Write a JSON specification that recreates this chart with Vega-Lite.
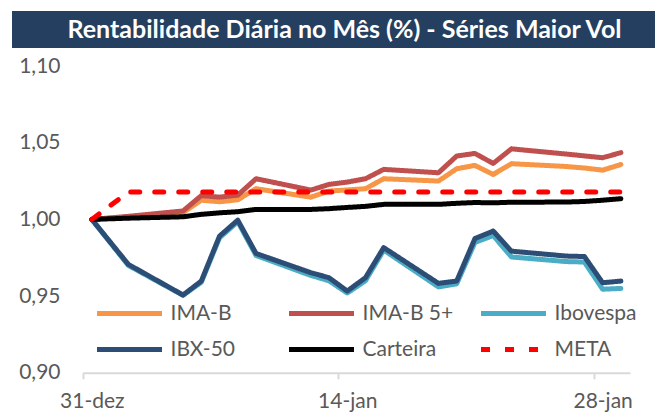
{
  "$schema": "https://vega.github.io/schema/vega-lite/v6.json",
  "padding": {"left": 12, "top": 11, "right": 5, "bottom": 0},
  "background": "white",
  "spacing": 7,
  "config": {"view": {"stroke": null}, "font": "Lato", "axis": {"grid": false}},
  "vconcat": [
    {
      "width": 643,
      "height": 37,
      "view": {"fill": "#243F60", "stroke": null},
      "data": {"values": [{"titulo": "Rentabilidade Diária no Mês (%) - Séries Maior Vol"}]},
      "mark": {"type": "text", "color": "white", "fontWeight": "bold", "fontSize": 25, "font": "Lato", "baseline": "middle", "align": "center", "dx": 11},
      "encoding": {"text": {"field": "titulo"}}
    },
    {
      "width": 643,
      "height": 306.8,
      "data": {"values": [
        {"d": "2014-12-31", "IMA-B": 1.0, "IMA-B 5+": 1.0, "Ibovespa": 1.0, "IBX-50": 1.0, "Carteira": 1.0, "META": 1.0},
        {"d": "2015-01-02", "IMA-B": 1.0015, "IMA-B 5+": 1.002, "Ibovespa": 0.970, "IBX-50": 0.9707, "Carteira": 1.0008, "META": 1.0178},
        {"d": "2015-01-05", "IMA-B": 1.0045, "IMA-B 5+": 1.0055, "Ibovespa": 0.9505, "IBX-50": 0.9507, "Carteira": 1.0017, "META": 1.0178},
        {"d": "2015-01-06", "IMA-B": 1.0125, "IMA-B 5+": 1.0155, "Ibovespa": 0.959, "IBX-50": 0.9598, "Carteira": 1.0033, "META": 1.0178},
        {"d": "2015-01-07", "IMA-B": 1.0115, "IMA-B 5+": 1.0145, "Ibovespa": 0.988, "IBX-50": 0.9891, "Carteira": 1.0043, "META": 1.0178},
        {"d": "2015-01-08", "IMA-B": 1.0128, "IMA-B 5+": 1.0158, "Ibovespa": 0.9985, "IBX-50": 0.9995, "Carteira": 1.005, "META": 1.0178},
        {"d": "2015-01-09", "IMA-B": 1.020, "IMA-B 5+": 1.0265, "Ibovespa": 0.9765, "IBX-50": 0.9778, "Carteira": 1.0065, "META": 1.0178},
        {"d": "2015-01-12", "IMA-B": 1.0145, "IMA-B 5+": 1.0191, "Ibovespa": 0.9635, "IBX-50": 0.9653, "Carteira": 1.0065, "META": 1.0178},
        {"d": "2015-01-13", "IMA-B": 1.0185, "IMA-B 5+": 1.0228, "Ibovespa": 0.960, "IBX-50": 0.962, "Carteira": 1.007, "META": 1.0178},
        {"d": "2015-01-14", "IMA-B": 1.0192, "IMA-B 5+": 1.0243, "Ibovespa": 0.952, "IBX-50": 0.9533, "Carteira": 1.0078, "META": 1.0178},
        {"d": "2015-01-15", "IMA-B": 1.020, "IMA-B 5+": 1.0265, "Ibovespa": 0.960, "IBX-50": 0.962, "Carteira": 1.0085, "META": 1.0178},
        {"d": "2015-01-16", "IMA-B": 1.0265, "IMA-B 5+": 1.0326, "Ibovespa": 0.980, "IBX-50": 0.9816, "Carteira": 1.0098, "META": 1.0178},
        {"d": "2015-01-19", "IMA-B": 1.025, "IMA-B 5+": 1.0304, "Ibovespa": 0.956, "IBX-50": 0.9583, "Carteira": 1.0098, "META": 1.0178},
        {"d": "2015-01-20", "IMA-B": 1.033, "IMA-B 5+": 1.0413, "Ibovespa": 0.958, "IBX-50": 0.9598, "Carteira": 1.0105, "META": 1.0178},
        {"d": "2015-01-21", "IMA-B": 1.0352, "IMA-B 5+": 1.043, "Ibovespa": 0.985, "IBX-50": 0.9875, "Carteira": 1.011, "META": 1.0178},
        {"d": "2015-01-22", "IMA-B": 1.0293, "IMA-B 5+": 1.0365, "Ibovespa": 0.9895, "IBX-50": 0.9924, "Carteira": 1.0108, "META": 1.0178},
        {"d": "2015-01-23", "IMA-B": 1.0363, "IMA-B 5+": 1.046, "Ibovespa": 0.9755, "IBX-50": 0.9793, "Carteira": 1.0112, "META": 1.0178},
        {"d": "2015-01-26", "IMA-B": 1.0345, "IMA-B 5+": 1.0426, "Ibovespa": 0.9725, "IBX-50": 0.9761, "Carteira": 1.0113, "META": 1.0178},
        {"d": "2015-01-27", "IMA-B": 1.0335, "IMA-B 5+": 1.0414, "Ibovespa": 0.9722, "IBX-50": 0.9758, "Carteira": 1.0117, "META": 1.0178},
        {"d": "2015-01-28", "IMA-B": 1.0321, "IMA-B 5+": 1.0402, "Ibovespa": 0.9545, "IBX-50": 0.9587, "Carteira": 1.0125, "META": 1.0178},
        {"d": "2015-01-29", "IMA-B": 1.0358, "IMA-B 5+": 1.0435, "Ibovespa": 0.955, "IBX-50": 0.9598, "Carteira": 1.0135, "META": 1.0178}
      ]},
      "transform": [
        {"fold": ["IMA-B", "IMA-B 5+", "Ibovespa", "IBX-50", "Carteira", "META"], "as": ["serie", "valor"]}
      ],
      "mark": {"type": "line", "strokeWidth": 5, "strokeCap": "round", "strokeJoin": "round"},
      "encoding": {
        "x": {
          "field": "d", "type": "temporal",
          "scale": {"type": "utc", "range": [70.7, 618], "domain": [{"year": 2014, "month": 12, "date": 30, "hours": 12, "utc": true}, {"year": 2015, "month": 1, "date": 29, "hours": 12, "utc": true}]},
          "axis": {
            "title": null,
            "values": [{"year": 2014, "month": 12, "date": 31, "utc": true}, {"year": 2015, "month": 1, "date": 14, "utc": true}, {"year": 2015, "month": 1, "date": 28, "utc": true}],
            "labelExpr": "utcFormat(datum.value, '%d') + '-' + (utcFormat(datum.value, '%m') == '12' ? 'dez' : 'jan')",
            "tickOffset": -9.12,
            "labelOffset": 9.12,
            "domainColor": "#D9D9D9", "domainWidth": 2,
            "tickColor": "#D9D9D9", "tickWidth": 2, "tickSize": 6,
            "labelPadding": 12, "labelFontSize": 21, "labelColor": "#595959", "labelFont": "Lato"
          }
        },
        "y": {
          "field": "valor", "type": "quantitative",
          "scale": {"domain": [0.9, 1.1], "zero": false, "nice": false},
          "axis": {
            "title": null,
            "values": [0.9, 0.95, 1.0, 1.05, 1.1],
            "labelExpr": "replace(format(datum.value, '.2f'), '.', ',')",
            "ticks": false, "tickSize": 0, "domain": false,
            "offset": -70.7,
            "labelPadding": 22.7, "labelFontSize": 21, "labelColor": "#595959", "labelFont": "Lato"
          }
        },
        "color": {
          "field": "serie", "type": "nominal",
          "scale": {"domain": ["IMA-B", "IMA-B 5+", "Ibovespa", "IBX-50", "Carteira", "META"], "range": ["#F79646", "#C0504D", "#4BACC6", "#2C4D75", "#000000", "#FF0000"]},
          "legend": {
            "orient": "none", "legendX": 82.5, "legendY": 291.5, "direction": "horizontal", "columns": 3, "title": null,
            "symbolType": "stroke", "symbolSize": 4225, "symbolStrokeWidth": 5, "clipHeight": 22,
            "labelFontSize": 21, "labelColor": "#595959", "labelFont": "Lato",
            "columnPadding": 25, "rowPadding": 14, "gridAlign": "all", "labelOffset": 6
          }
        },
        "strokeDash": {
          "field": "serie", "type": "nominal",
          "scale": {"domain": ["IMA-B", "IMA-B 5+", "Ibovespa", "IBX-50", "Carteira", "META"], "range": [[1, 0], [1, 0], [1, 0], [1, 0], [1, 0], [9, 15]]},
          "legend": {
            "orient": "none", "legendX": 82.5, "legendY": 291.5, "direction": "horizontal", "columns": 3, "title": null,
            "symbolType": "stroke", "symbolSize": 4225, "symbolStrokeWidth": 5, "clipHeight": 22,
            "labelFontSize": 21, "labelColor": "#595959", "labelFont": "Lato",
            "columnPadding": 25, "rowPadding": 14, "gridAlign": "all", "labelOffset": 6
          }
        }
      }
    }
  ]
}
